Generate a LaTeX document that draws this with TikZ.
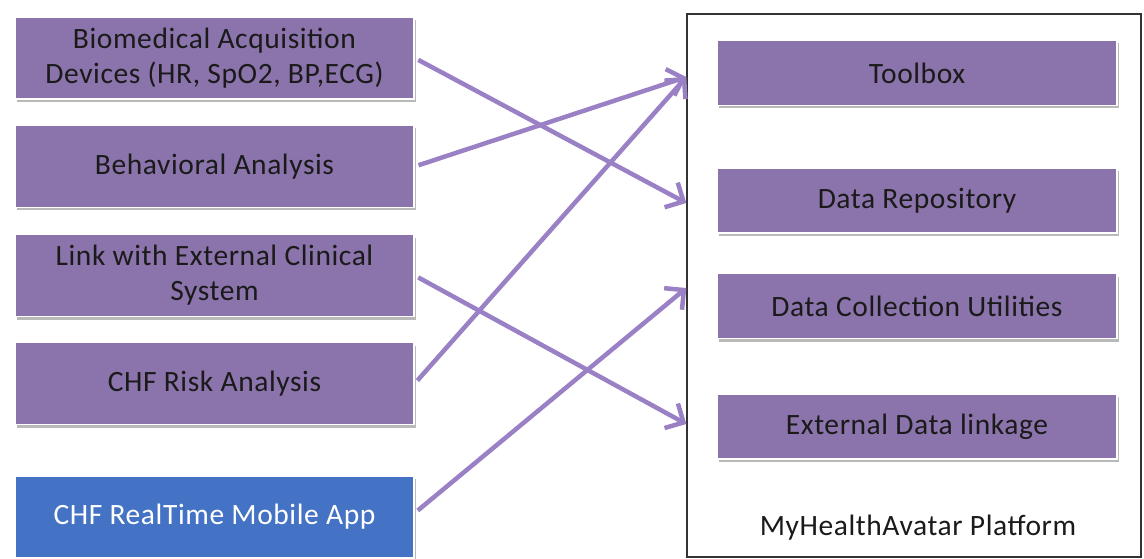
\documentclass[tikz,border=0pt]{standalone}
\usepackage{fontspec}
\setmainfont{Carlito}
\usetikzlibrary{shadows,arrows.meta}

\definecolor{boxpurple}{HTML}{8B73AB}
\definecolor{arrowpurple}{HTML}{9A80C4}
\definecolor{appblue}{HTML}{4472C4}
\definecolor{textdark}{HTML}{1A1A1A}

\tikzset{
  labelfont/.style={font=\fontsize{29.5}{35}\selectfont\addfontfeature{LetterSpace=2}},
  modbox/.style={rectangle, fill=boxpurple, draw=white, line width=1.5pt,
    minimum width=399pt, minimum height=#1, inner sep=0pt, align=center,
    labelfont, text=textdark,
    drop shadow={shadow xshift=2pt, shadow yshift=-3pt, opacity=0.5, fill=black!55}},
  modbox/.default=82pt,
  appbox/.style={modbox, fill=appblue, text=white},
  platbox/.style={modbox=65pt, minimum width=400pt},
  frame/.style={rectangle, draw=black!80, line width=1.4pt, inner sep=0pt,
    minimum width=454pt, minimum height=543pt},
  link/.style={draw=arrowpurple, line width=4.5pt, shorten <=4pt,
    -{Straight Barb[length=14pt, width=28pt]}},
}

\begin{document}
\begin{tikzpicture}[x=1pt, y=-1pt]
  % page area
  \useasboundingbox (0,0) rectangle (1144,559);

  % platform frame and its components
  \node[frame] (platform) at (914,285.5) {};
  \node[platbox] (toolbox) at (917,73)    {Toolbox};
  \node[platbox] (repo)    at (917,200.5) {Data Repository};
  \node[platbox] (collect) at (917,306)   {Data Collection Utilities};
  \node[platbox] (extlink) at (917,426.5) {External Data linkage};
  \node[labelfont, text=textdark] (platlabel) at (918,528) {MyHealthAvatar Platform};

  % sources on the left
  \node[modbox] (bio)   at (214.5,58)    {Biomedical Acquisition\\Devices (HR, SpO2, BP,ECG)};
  \node[modbox] (behav) at (214.5,166.5) {Behavioral Analysis};
  \node[modbox] (clin)  at (214.5,275.5) {Link with External Clinical\\System};
  \node[modbox] (risk)  at (214.5,383.5) {CHF Risk Analysis};
  \node[appbox] (app)   at (214.5,517)   {CHF RealTime Mobile App};

  % entry points on the frame border
  \coordinate (inTool)    at (platform.west |- 0,77);
  \coordinate (inRepo)    at (platform.west |- 0,203);
  \coordinate (inCollect) at (platform.west |- 0,288);
  \coordinate (inExt)     at (platform.west |- 0,424);

  % connectors
  \draw[link] (bio.east)   -- (inRepo);
  \draw[link] (behav.east) -- (inTool);
  \draw[link] (clin.east)  -- (inExt);
  \draw[link] (risk.east)  -- (inTool);
  \draw[link] ([yshift=4pt]app.east) -- (inCollect);
\end{tikzpicture}
\end{document}
